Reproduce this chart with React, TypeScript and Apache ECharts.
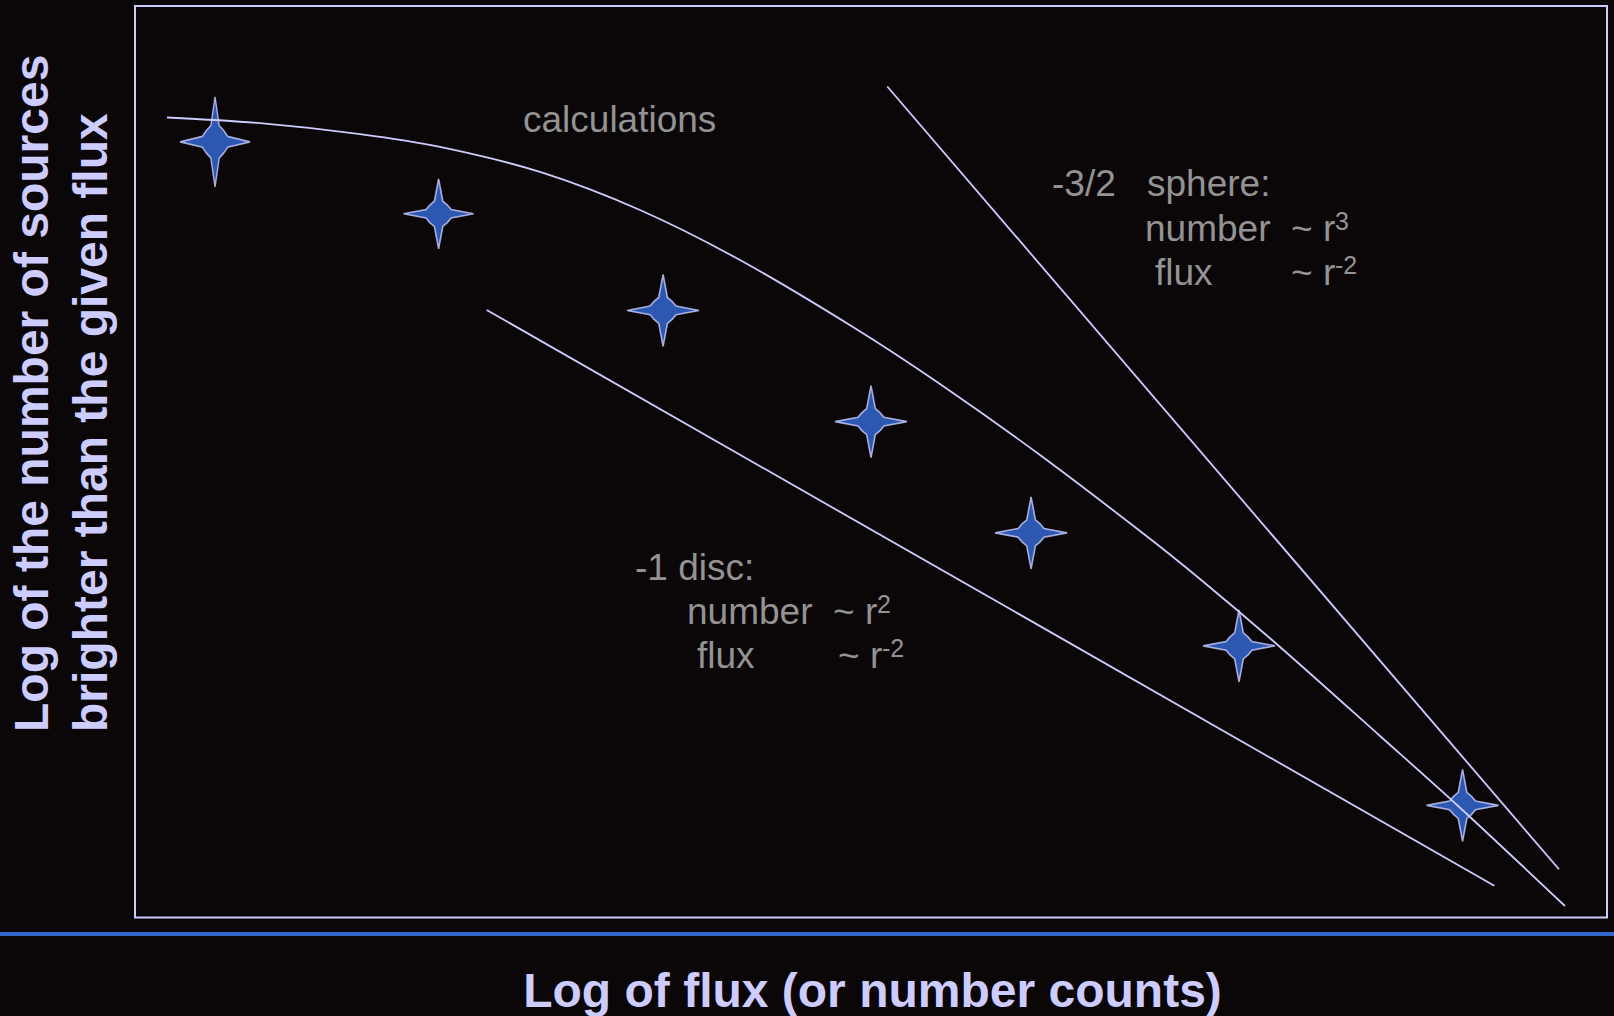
import React, { useEffect, useRef } from "react";
import * as echarts from "echarts";

// ---- data (arbitrary log units) ----
const starX = [0.87, 3.3, 5.74, 8.0, 9.74, 12.0, 14.43];
const starY = [8.51, 7.72, 6.66, 5.44, 4.22, 2.98, 1.23];
const starW = [70, 70, 72, 72, 72, 72, 72];
const starH = [90, 70, 72, 72, 72, 72, 72];

const calcX = [0.348, 1.359, 2.446, 3.315, 4.402, 5.489, 6.576, 7.804, 8.75, 9.837, 10.924, 11.576, 12.446, 13.533, 14.37, 15.543];
const calcY = [8.777, 8.715, 8.595, 8.454, 8.18, 7.762, 7.213, 6.478, 5.853, 5.074, 4.24, 3.714, 2.968, 1.991, 1.234, 0.126];

const discX = [3.823, 14.775];
const discY = [6.665, 0.349];

const sphereX = [8.177, 15.478];
const sphereY = [9.117, 0.529];

const xTitle = "Log of flux (or number counts)";
const yTitle1 = "Log of the number of sources";
const yTitle2 = "brighter than the given flux";

const calcLabel = "calculations";
const sphereLabels = ["-3/2", "sphere:", "number", "~ r", "3", "flux", "~ r", "-2"];
const discLabels = ["-1 disc:", "number", "~ r", "2", "flux", "~ r", "-2"];

const FONT = '"Liberation Sans", Arial, Helvetica, sans-serif';
const LAV = "#ccccff";
const GRAY = "#939393";
const STAR_PATH =
  "path://M0,-100L12,-36L25,-25L36,-12L100,0L36,12L25,25L12,36L0,100L-12,36L-25,25L-36,12L-100,0L-36,-12L-25,-25L-12,-36Z";

const NOTE = 37;
const SUP = 25;

function note(text: string, x: number, baseline: number, size = NOTE) {
  return {
    type: "text",
    x,
    y: baseline - 0.35 * size,
    silent: true,
    style: {
      text,
      fill: GRAY,
      fontSize: size,
      fontFamily: FONT,
      textAlign: "left",
      textVerticalAlign: "middle",
    },
  };
}

export default function App() {
  const ref = useRef<HTMLDivElement>(null);
  useEffect(() => {
    if (!ref.current) return;
    const chart = echarts.init(ref.current, undefined, { renderer: "svg" });
    const zip = (xs: number[], ys: number[]) => xs.map((x, i) => [x, ys[i]]);
    const lineStyle = { color: LAV, width: 1.8 };
    const option: any = {
      animation: false,
      backgroundColor: "#0b0607",
      grid: {
        left: 135,
        top: 6,
        right: 7,
        bottom: 98.5,
        show: true,
        borderColor: LAV,
        borderWidth: 2,
        backgroundColor: "transparent",
      },
      xAxis: { type: "value", min: 0, max: 16, show: false },
      yAxis: { type: "value", min: 0, max: 10, show: false },
      series: [
        {
          type: "scatter",
          silent: true,
          z: 2,
          symbol: STAR_PATH,
          itemStyle: { color: "#356ddc", borderColor: LAV, borderWidth: 1.6 },
          data: starX.map((x, i) => ({ value: [x, starY[i]], symbolSize: [starW[i], starH[i]] })),
        },
        { type: "line", silent: true, z: 3, smooth: 0.3, symbol: "none", lineStyle, data: zip(calcX, calcY) },
        { type: "line", silent: true, z: 3, symbol: "none", lineStyle, data: zip(discX, discY) },
        { type: "line", silent: true, z: 3, symbol: "none", lineStyle, data: zip(sphereX, sphereY) },
      ],
      graphic: [
        { type: "rect", silent: true, shape: { x: 0, y: 932, width: 1614, height: 4 }, style: { fill: "#3366cc" } },
        {
          type: "text",
          x: 872.5,
          y: 1007 - 0.35 * 48,
          silent: true,
          style: { text: xTitle, fill: LAV, fontSize: 48, fontWeight: "bold", fontFamily: FONT, textAlign: "center", textVerticalAlign: "middle" },
        },
        {
          type: "text",
          x: 48 - 0.35 * 48,
          y: 732,
          rotation: Math.PI / 2,
          silent: true,
          style: { text: yTitle1, fill: LAV, fontSize: 48, fontWeight: "bold", fontFamily: FONT, textAlign: "left", textVerticalAlign: "middle" },
        },
        {
          type: "text",
          x: 107 - 0.35 * 48,
          y: 732,
          rotation: Math.PI / 2,
          silent: true,
          style: { text: yTitle2, fill: LAV, fontSize: 48, fontWeight: "bold", fontFamily: FONT, textAlign: "left", textVerticalAlign: "middle" },
        },
        note(calcLabel, 523, 132),
        // sphere block
        note(sphereLabels[0], 1052, 196),
        note(sphereLabels[1], 1147, 196),
        note(sphereLabels[2], 1145, 241),
        note(sphereLabels[3], 1291, 241),
        note(sphereLabels[4], 1335, 230, SUP),
        note(sphereLabels[5], 1155, 285),
        note(sphereLabels[6], 1291, 285),
        note(sphereLabels[7], 1335, 274, SUP),
        // disc block
        note(discLabels[0], 635, 580),
        note(discLabels[1], 687, 624),
        note(discLabels[2], 833, 624),
        note(discLabels[3], 877, 613, SUP),
        note(discLabels[4], 697, 668),
        note(discLabels[5], 838, 668),
        note(discLabels[6], 882, 657, SUP),
      ],
    };
    chart.setOption(option);
    return () => chart.dispose();
  }, []);
  return <div ref={ref} style={{ position: "fixed", left: 0, top: 0, width: 1614, height: 1016 }} />;
}
